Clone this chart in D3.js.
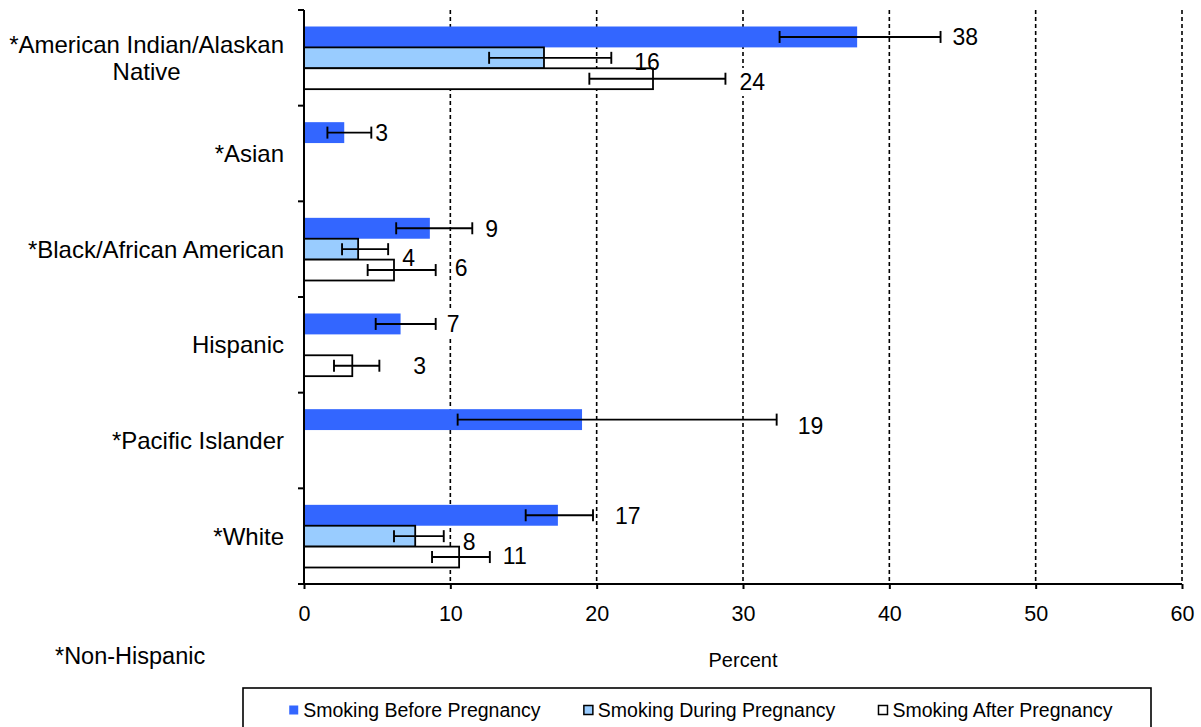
<!DOCTYPE html>
<html>
<head>
<meta charset="utf-8">
<script src="https://cdn.jsdelivr.net/npm/d3@7"></script>
<style>
  html, body { margin: 0; padding: 0; background: #fff; }
  svg { display: block; font-family: "Liberation Sans", Arial, sans-serif; }
</style>
</head>
<body>
<svg id="chart" width="1201" height="727"></svg>
<script>
// Smoking before, during and after pregnancy by race/ethnicity (percent, with 95% CI)
const categories = [
  "*American Indian/Alaskan Native",
  "*Asian",
  "*Black/African American",
  "Hispanic",
  "*Pacific Islander",
  "*White"
];
const seriesNames = ["Smoking Before Pregnancy", "Smoking During Pregnancy", "Smoking After Pregnancy"];

const beforeValues = [37.8, 2.75, 8.6, 6.6, 19.0, 17.35];
const beforeLow    = [32.5, 1.6, 6.3, 4.9, 10.5, 15.15];
const beforeHigh   = [43.5, 4.6, 11.5, 9.0, 32.3, 19.75];

const duringValues = [16.4, null, 3.7, null, null, 7.6];
const duringLow    = [12.65, null, 2.6, null, null, 6.15];
const duringHigh   = [21.0, null, 5.75, null, null, 9.55];

const afterValues  = [23.85, null, 6.15, 3.3, null, 10.6];
const afterLow     = [19.5, null, 4.35, 2.05, null, 8.75];
const afterHigh    = [28.8, null, 9.0, 5.15, null, 12.7];

const xTicks = [0, 10, 20, 30, 40, 50, 60];
const xTitle = "Percent";
const footnote = "*Non-Hispanic";

// label placement nudges (px) relative to the end of each error bar / bar centre
const labelDx = [
  [12, 4, 13, 11, 21, 22],
  [23, 0, 14, 0, 0, 19],
  [14, 0, 19, 34, 0, 13]
];
const labelDy = [
  [0, 0, 0, 0, 6, 0],
  [4, 0, 9, 0, 0, 6],
  [3, 0, -2, 0, 0, -1]
];

const seriesFill = ["#3366FF", "#99CCFF", "#FFFFFF"];
const seriesStroke = ["none", "#000", "#000"];

const series = [
  { name: seriesNames[0], values: beforeValues, low: beforeLow, high: beforeHigh },
  { name: seriesNames[1], values: duringValues, low: duringLow, high: duringHigh },
  { name: seriesNames[2], values: afterValues,  low: afterLow,  high: afterHigh }
];

const svg = d3.select("#chart");
const FONT = "'Liberation Sans', Arial, sans-serif";

const x = d3.scaleLinear().domain([0, 60]).range([304, 1182]);
const y = d3.scaleBand().domain(categories).range([10, 584]).padding(0);
const inner = d3.scaleBand().domain(d3.range(series.length))
  .range([0, y.bandwidth()]).paddingInner(0).paddingOuter(0.79);

const rows = [];
series.forEach((s, si) => {
  categories.forEach((c, ci) => {
    if (s.values[ci] == null) return;
    rows.push({ si, ci, cat: c, v: s.values[ci], lo: s.low[ci], hi: s.high[ci],
                dx: labelDx[si][ci], dy: labelDy[si][ci] });
  });
});

const gGrid = svg.append("g");
const gLabelBg = svg.append("g");
const gBars = svg.append("g");
const gErr = svg.append("g");
const gAxes = svg.append("g");
const gLabels = svg.append("g");

// vertical dashed gridlines
gGrid.selectAll("line").data(xTicks.filter(t => t > 0)).join("line")
  .attr("x1", d => x(d)).attr("x2", d => x(d))
  .attr("y1", y.range()[0]).attr("y2", y.range()[1])
  .attr("stroke", "#000").attr("stroke-width", 1.6).attr("stroke-dasharray", "4,3");

// bars
gBars.selectAll("rect").data(rows).join("rect")
  .attr("x", x(0))
  .attr("y", d => y(d.cat) + inner(d.si))
  .attr("width", d => x(d.v) - x(0))
  .attr("height", inner.bandwidth())
  .attr("fill", d => seriesFill[d.si])
  .attr("stroke", d => seriesStroke[d.si])
  .attr("stroke-width", 1.8);

// error bars
const cap = 6;
const eb = gErr.selectAll("g").data(rows).join("g")
  .attr("stroke", "#000").attr("stroke-width", 1.9);
eb.append("line")
  .attr("x1", d => x(d.lo)).attr("x2", d => x(d.hi))
  .attr("y1", d => y(d.cat) + inner(d.si) + inner.bandwidth() / 2)
  .attr("y2", d => y(d.cat) + inner(d.si) + inner.bandwidth() / 2);
eb.append("line")
  .attr("x1", d => x(d.lo)).attr("x2", d => x(d.lo))
  .attr("y1", d => y(d.cat) + inner(d.si) + inner.bandwidth() / 2 - cap)
  .attr("y2", d => y(d.cat) + inner(d.si) + inner.bandwidth() / 2 + cap);
eb.append("line")
  .attr("x1", d => x(d.hi)).attr("x2", d => x(d.hi))
  .attr("y1", d => y(d.cat) + inner(d.si) + inner.bandwidth() / 2 - cap)
  .attr("y2", d => y(d.cat) + inner(d.si) + inner.bandwidth() / 2 + cap);

// data labels (rounded values), with white boxes that mask the gridlines
const labels = gLabels.selectAll("text").data(rows).join("text")
  .attr("x", d => x(d.hi) + d.dx)
  .attr("y", d => y(d.cat) + inner(d.si) + inner.bandwidth() / 2 + d.dy)
  .attr("dy", "0.36em")
  .attr("font-size", 23)
  .attr("font-family", FONT)
  .attr("fill", "#000")
  .text(d => Math.round(d.v));
labels.each(function () {
  const b = this.getBBox();
  gLabelBg.append("rect")
    .attr("x", b.x - 3).attr("y", b.y - 1)
    .attr("width", b.width + 6).attr("height", b.height + 2)
    .attr("fill", "#fff");
});

// y axis: line and band-boundary ticks
const yBounds = categories.map(c => y(c)).concat([y.range()[1]]);
gAxes.append("line")
  .attr("x1", x(0)).attr("x2", x(0))
  .attr("y1", y.range()[0]).attr("y2", y.range()[1])
  .attr("stroke", "#000").attr("stroke-width", 2);
gAxes.selectAll(".ytick").data(yBounds).join("line").attr("class", "ytick")
  .attr("x1", x(0) - 6).attr("x2", x(0))
  .attr("y1", d => d).attr("y2", d => d)
  .attr("stroke", "#000").attr("stroke-width", 2);

// x axis
const xAxis = d3.axisBottom(x).tickValues(xTicks).tickSizeInner(5).tickSizeOuter(0).tickPadding(17);
const gx = gAxes.append("g").attr("transform", `translate(0,${y.range()[1]})`).call(xAxis);
gx.select(".domain").remove();
gx.selectAll(".tick line").attr("stroke", "#000").attr("stroke-width", 2);
gx.selectAll(".tick text").attr("font-size", 21.5).attr("font-family", FONT).attr("fill", "#000");
gAxes.append("line")
  .attr("x1", x(0) - 6).attr("x2", x(60))
  .attr("y1", y.range()[1]).attr("y2", y.range()[1])
  .attr("stroke", "#000").attr("stroke-width", 2);

// category labels, wrapped and centred as a block right-aligned to the axis
const catFont = 24;
const rightEdge = x(0) - 20;
const maxLine = 290;
const measure = svg.append("text").attr("font-size", catFont).attr("font-family", FONT).attr("visibility", "hidden");
function textWidth(s) { measure.text(s); return measure.node().getComputedTextLength(); }
function wrap(s) {
  const words = s.split(" ");
  const lines = [];
  let cur = "";
  words.forEach(w => {
    const t = cur ? cur + " " + w : w;
    if (cur && textWidth(t) > maxLine) { lines.push(cur); cur = w; } else { cur = t; }
  });
  if (cur) lines.push(cur);
  return lines;
}
const lineH = 26.7;
categories.forEach(c => {
  const lines = wrap(c);
  const blockW = d3.max(lines, textWidth);
  const cx = rightEdge - blockW / 2;
  const cy = y(c) + y.bandwidth() / 2;
  const t = svg.append("text")
    .attr("font-size", catFont).attr("font-family", FONT).attr("fill", "#000")
    .attr("text-anchor", "middle");
  lines.forEach((ln, i) => {
    t.append("tspan")
      .attr("x", cx)
      .attr("y", cy + (i - (lines.length - 1) / 2) * lineH)
      .attr("dy", "0.35em")
      .text(ln);
  });
});
measure.remove();

// axis title and footnote
svg.append("text")
  .attr("x", (x(0) + x(60)) / 2).attr("y", 667)
  .attr("text-anchor", "middle")
  .attr("font-size", 20).attr("font-family", FONT).attr("fill", "#000")
  .text(xTitle);
svg.append("text")
  .attr("x", 55).attr("y", 664)
  .attr("font-size", 23.5).attr("font-family", FONT).attr("fill", "#000")
  .text(footnote);

// legend
const legBox = { x: 243, y: 688, w: 908, h: 50 };
const gLeg = svg.append("g");
gLeg.append("rect")
  .attr("x", legBox.x).attr("y", legBox.y).attr("width", legBox.w).attr("height", legBox.h)
  .attr("fill", "#fff").attr("stroke", "#000").attr("stroke-width", 1.6);
const legFont = 19.5, sw = 9, swGap = 5, itemGap = 43;
const legY = 710;
const items = gLeg.selectAll("g.item").data(series).join("g").attr("class", "item");
items.append("rect")
  .attr("width", sw).attr("height", sw)
  .attr("y", legY - sw / 2)
  .attr("fill", (d, i) => seriesFill[i])
  .attr("stroke", (d, i) => seriesStroke[i])
  .attr("stroke-width", 1.5);
items.append("text")
  .attr("x", sw + swGap).attr("y", legY).attr("dy", "0.35em")
  .attr("font-size", legFont).attr("font-family", FONT).attr("fill", "#000")
  .text(d => d.name);
const widths = [];
items.each(function () { widths.push(this.getBBox().width); });
const total = d3.sum(widths) + itemGap * (widths.length - 1);
let cursor = legBox.x + legBox.w / 2 - total / 2 + 4;
items.each(function (d, i) {
  d3.select(this).attr("transform", `translate(${cursor},0)`);
  cursor += widths[i] + itemGap;
});
</script>
</body>
</html>
